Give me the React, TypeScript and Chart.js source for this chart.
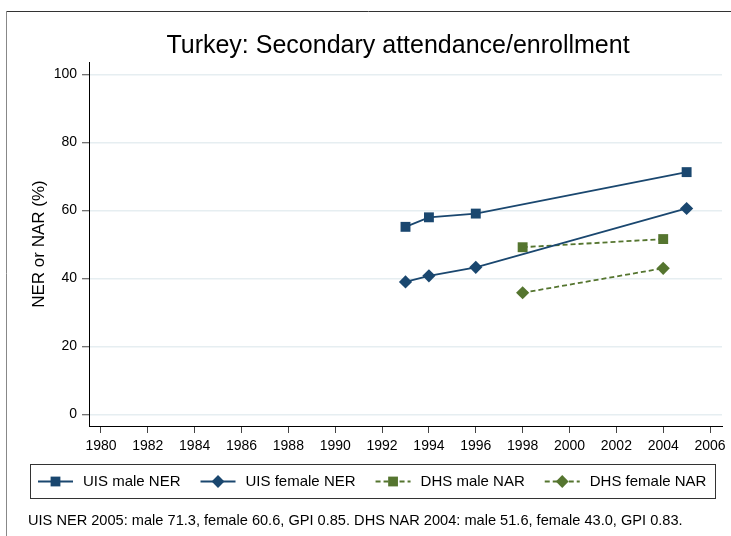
import React, { useEffect, useRef } from "react";
import { Chart, registerables } from "chart.js";

Chart.register(...registerables);

const chartTitle = "Turkey: Secondary attendance/enrollment";
const yAxisTitle = "NER or NAR (%)";
const noteText =
  "UIS NER 2005: male 71.3, female 60.6, GPI 0.85. DHS NAR 2004: male 51.6, female 43.0, GPI 0.83.";

const uisYears = [1993, 1994, 1996, 2005];
const uisMale = [55.2, 58.0, 59.1, 71.3];
const uisFemale = [39.0, 40.8, 43.3, 60.6];
const dhsYears = [1998, 2004];
const dhsMale = [49.2, 51.6];
const dhsFemale = [35.8, 43.0];

const seriesLabels = ["UIS male NER", "UIS female NER", "DHS male NAR", "DHS female NAR"];
const xTickLabels = [1980, 1982, 1984, 1986, 1988, 1990, 1992, 1994, 1996, 1998, 2000, 2002, 2004, 2006];
const yTickLabels = [0, 20, 40, 60, 80, 100];

const NAVY = "#1a476f";
const GREEN = "#55752f";
const GRID = "#e6eef1";
const FONT = "'Liberation Sans', Arial, Helvetica, sans-serif";

const pts = (xs: number[], ys: number[]) => xs.map((x, i) => ({ x, y: ys[i] }));

function drawMarker(ctx: CanvasRenderingContext2D, style: string, x: number, y: number, color: string) {
  ctx.save();
  ctx.fillStyle = color;
  ctx.beginPath();
  if (style === "rect") {
    const s = 4.9;
    ctx.rect(x - s, y - s, 2 * s, 2 * s);
  } else {
    const r = 6.4;
    ctx.moveTo(x, y - r);
    ctx.lineTo(x + r, y);
    ctx.lineTo(x, y + r);
    ctx.lineTo(x - r, y);
    ctx.closePath();
  }
  ctx.fill();
  ctx.restore();
}

const decorPlugin = {
  id: "decor",
  beforeDraw(chart: any) {
    const ctx = chart.ctx as CanvasRenderingContext2D;
    ctx.save();
    ctx.fillStyle = "#ffffff";
    ctx.fillRect(0, 0, chart.width, chart.height);
    ctx.restore();
  },
  afterDraw(chart: any) {
    const ctx = chart.ctx as CanvasRenderingContext2D;
    ctx.save();
    // outer frame
    ctx.lineWidth = 1;
    ctx.strokeStyle = "#333333";
    ctx.beginPath();
    ctx.moveTo(6, 11.5);
    ctx.lineTo(chart.width, 11.5);
    ctx.stroke();
    ctx.strokeStyle = "#888888";
    ctx.beginPath();
    ctx.moveTo(6.5, 11);
    ctx.lineTo(6.5, chart.height);
    ctx.stroke();

    // title
    ctx.fillStyle = "#000000";
    ctx.font = `25px ${FONT}`;
    ctx.textAlign = "center";
    ctx.textBaseline = "alphabetic";
    ctx.fillText(chartTitle, 398, 53);

    // y axis title
    ctx.save();
    ctx.translate(39, 244);
    ctx.rotate(-Math.PI / 2);
    ctx.font = `17px ${FONT}`;
    ctx.textAlign = "center";
    ctx.textBaseline = "middle";
    ctx.fillText(yAxisTitle, 0, 0);
    ctx.restore();

    // legend box
    ctx.fillStyle = "#ffffff";
    ctx.fillRect(30, 464, 685, 34);
    ctx.strokeStyle = "#333333";
    ctx.lineWidth = 1;
    ctx.strokeRect(30.5, 464.5, 685, 34);

    const ly = 481.5;
    let kx = 38;
    ctx.font = `15px ${FONT}`;
    ctx.textBaseline = "middle";
    ctx.textAlign = "left";
    chart.data.datasets.forEach((ds: any) => {
      const color = ds.borderColor;
      ctx.save();
      ctx.strokeStyle = color;
      ctx.lineWidth = ds.borderWidth;
      ctx.setLineDash(ds.borderDash || []);
      ctx.beginPath();
      ctx.moveTo(kx, ly);
      ctx.lineTo(kx + 35, ly);
      ctx.stroke();
      ctx.restore();
      drawMarker(ctx, ds.pointStyle, kx + 17.5, ly, color);
      ctx.fillStyle = "#000000";
      ctx.fillText(ds.label, kx + 45, ly);
      const w = ctx.measureText(ds.label).width;
      kx = kx + 45 + w + 20;
    });

    // note
    ctx.font = `14.6px ${FONT}`;
    ctx.fillStyle = "#000000";
    ctx.textAlign = "left";
    ctx.textBaseline = "middle";
    ctx.fillText(noteText, 28, 521);
    ctx.restore();
  },
};

export default function App() {
  const ref = useRef<HTMLCanvasElement | null>(null);

  useEffect(() => {
    if (!ref.current) return;
    const chart = new Chart(ref.current, {
      type: "line",
      data: {
        datasets: [
          {
            label: seriesLabels[0],
            data: pts(uisYears, uisMale),
            borderColor: NAVY,
            backgroundColor: NAVY,
            borderWidth: 1.8,
            pointStyle: "rect",
            pointRadius: 7,
            pointBorderWidth: 0,
          },
          {
            label: seriesLabels[1],
            data: pts(uisYears, uisFemale),
            borderColor: NAVY,
            backgroundColor: NAVY,
            borderWidth: 1.8,
            pointStyle: "rectRot",
            pointRadius: 6.6,
            pointBorderWidth: 0,
          },
          {
            label: seriesLabels[2],
            data: pts(dhsYears, dhsMale),
            borderColor: GREEN,
            backgroundColor: GREEN,
            borderWidth: 1.8,
            borderDash: [5, 3],
            pointStyle: "rect",
            pointRadius: 7,
            pointBorderWidth: 0,
          },
          {
            label: seriesLabels[3],
            data: pts(dhsYears, dhsFemale),
            borderColor: GREEN,
            backgroundColor: GREEN,
            borderWidth: 1.8,
            borderDash: [5, 3],
            pointStyle: "rectRot",
            pointRadius: 6.6,
            pointBorderWidth: 0,
          },
        ],
      },
      options: {
        animation: false,
        responsive: false,
        devicePixelRatio: 1,
        layout: { padding: { left: 0, top: 62, right: 9, bottom: 0 } },
        plugins: {
          legend: { display: false },
          title: { display: false },
          tooltip: { enabled: false },
        },
        scales: {
          x: {
            type: "linear",
            min: 1979.49,
            max: 2006.51,
            afterFit: (s: any) => {
              s.height = 110;
            },
            afterBuildTicks: (s: any) => {
              s.ticks = xTickLabels.map((v) => ({ value: v }));
            },
            grid: {
              drawOnChartArea: false,
              drawTicks: true,
              tickLength: 7,
              tickColor: "#444444",
              tickWidth: 1,
            },
            border: { display: true, color: "#000000", width: 1 },
            ticks: {
              color: "#000000",
              font: { family: FONT, size: 14 },
              padding: 5,
              maxRotation: 0,
              autoSkip: false,
              callback: (v: any) => String(v),
            },
          },
          y: {
            type: "linear",
            min: -3.4,
            max: 103.7,
            afterFit: (s: any) => {
              s.width = 89;
            },
            afterBuildTicks: (s: any) => {
              s.ticks = yTickLabels.map((v) => ({ value: v }));
            },
            grid: {
              color: GRID,
              lineWidth: 1.5,
              drawTicks: true,
              tickLength: 7,
              tickColor: "#444444",
              tickWidth: 1,
            },
            border: { display: true, color: "#000000", width: 1 },
            ticks: {
              color: "#000000",
              font: { family: FONT, size: 14 },
              padding: 5,
              callback: (v: any) => String(v),
            },
          },
        },
      },
      plugins: [decorPlugin],
    } as any);
    return () => chart.destroy();
  }, []);

  return (
    <div style={{ position: "absolute", left: 0, top: 0, width: 731, height: 536 }}>
      <canvas ref={ref} width={731} height={536} style={{ width: 731, height: 536, display: "block" }} />
    </div>
  );
}
